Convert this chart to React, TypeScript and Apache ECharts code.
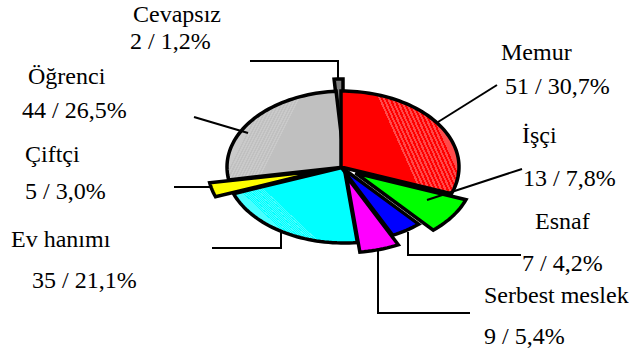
import React, { useEffect, useRef } from "react";
import * as echarts from "echarts";

const categories = ["Memur", "İşçi", "Esnaf", "Serbest meslek", "Ev hanımı", "Çiftçi", "Öğrenci", "Cevapsız"];
const counts = [51, 13, 7, 9, 35, 5, 44, 2];
const shares = ["30,7", "7,8", "4,2", "5,4", "21,1", "3,0", "26,5", "1,2"];
const colors = ["#ff0000", "#00ff00", "#0000ff", "#ff00ff", "#00ffff", "#ffff00", "#c0c0c0", "#808080"];
const stripeColors = ["#ff4a4a", "", "", "", "#48ffff", "", "#cacaca", ""];
const explodeX = [0, 14.5, 0, 5.5, 3, -15, 4, 2];
const explodeY = [0, 6, 0, 9.5, 0, 3, 0, -12];
const drawOrder = [7, 6, 5, 4, 3, 2, 1, 0];

const W = 629, H = 354, CX = 341, CY = 167, RX = 118, RY = 76;
const total = counts.reduce((a, b) => a + b, 0);
const ptOn = (deg: number, dx: number, dy: number) => {
  const r = (deg * Math.PI) / 180;
  return [CX + dx + RX * Math.sin(r), CY + dy - RY * Math.cos(r)];
};

function stripedFill(i: number, a0: number, a1: number, dx: number, dy: number) {
  if (!stripeColors[i]) return colors[i];
  const p = ptOn(a0, dx, dy), q = ptOn(a1, dx, dy);
  const m = ptOn((a0 + a1) / 2, dx, dy);
  const mid = [(p[0] + q[0]) / 2, (p[1] + q[1]) / 2];
  const stops: { offset: number; color: string }[] = [];
  const n = 24;
  for (let k = 0; k < n; k++) {
    const c = k % 2 === 0 ? colors[i] : stripeColors[i];
    stops.push({ offset: k / n, color: c }, { offset: (k + 1) / n, color: c });
  }
  return new echarts.graphic.LinearGradient(mid[0], mid[1], m[0], m[1], stops, true);
}

const renderSlice = (_params: any, api: any) => {
  const i = api.value(0);
  let start = 0;
  for (let k = 0; k < i; k++) start += (counts[k] / total) * 360;
  const end = start + (api.value(1) / total) * 360;
  const dx = explodeX[i], dy = explodeY[i];
  const points: number[][] = [[CX + dx, CY + dy]];
  const steps = Math.max(2, Math.ceil((end - start) / 2));
  for (let s = 0; s <= steps; s++) points.push(ptOn(start + ((end - start) * s) / steps, dx, dy));
  return {
    type: "polygon",
    shape: { points },
    style: { fill: stripedFill(i, start, end, dx, dy), stroke: "#000", lineWidth: 3.5, lineJoin: "miter" },
  };
};

const leaders = [
  [[250, 61], [338, 61], [338, 80]],
  [[438, 122], [497, 85]],
  [[427, 200], [522, 169]],
  [[408, 232], [408, 255], [521, 255]],
  [[378, 250], [378, 313], [470, 313]],
  [[281, 231], [281, 248], [212, 248]],
  [[174, 187], [212, 187]],
  [[194, 117], [248, 133]],
];
const nameXY = [[501, 64], [522, 147], [535, 233], [484, 307], [11, 251], [25, 166], [28, 88], [133, 26]];
const valueXY = [[505, 98], [523, 190], [522, 275], [484, 348], [32, 292], [25, 203], [22, 122], [130, 53]];

const textEl = (text: string, xy: number[]) => ({
  type: "text",
  x: xy[0],
  y: xy[1],
  style: { text, fill: "#000", font: '24px "Liberation Serif"', textAlign: "left", textVerticalAlign: "bottom", textBaseline: "alphabetic" },
});

export default function App() {
  const ref = useRef<HTMLDivElement>(null);
  useEffect(() => {
    const chart = echarts.init(ref.current!, undefined, { renderer: "svg" });
    chart.setOption({
      animation: false,
      backgroundColor: "#fff",
      series: [
        {
          type: "custom",
          coordinateSystem: "none",
          renderItem: renderSlice,
          data: drawOrder.map((i) => [i, counts[i], categories[i]]),
          silent: true,
          z: 3,
        },
      ],
      graphic: [
        ...leaders.map((points) => ({
          type: "polyline",
          z: 5,
          shape: { points },
          style: { fill: "none", stroke: "#000", lineWidth: 2 },
        })),
        ...categories.map((c, i) => textEl(c, nameXY[i])),
        ...categories.map((_, i) => textEl(`${counts[i]} / ${shares[i]}%`, valueXY[i])),
      ],
    });
    return () => chart.dispose();
  }, []);
  return <div ref={ref} style={{ position: "fixed", left: 0, top: 0, width: W, height: H }} />;
}
